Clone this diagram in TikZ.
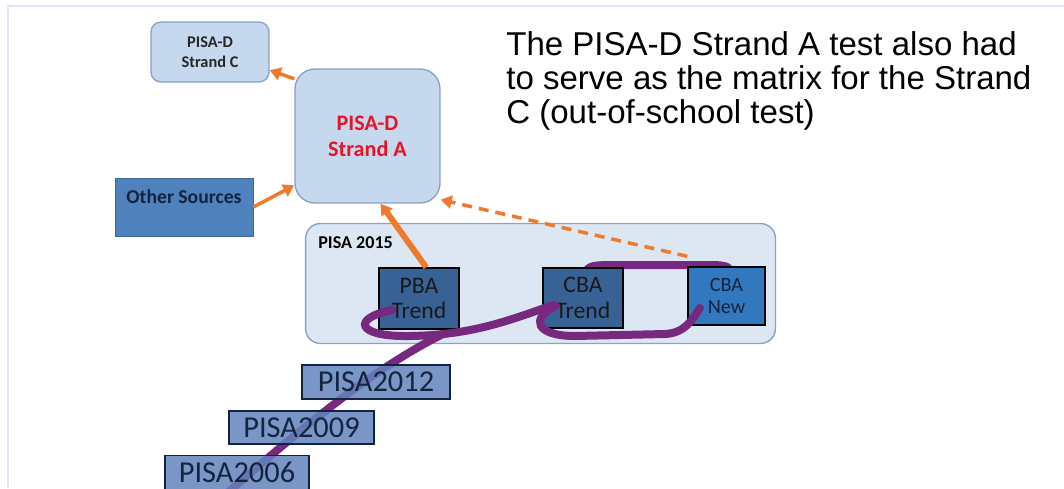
\documentclass[tikz,border=0pt]{standalone}
\usepackage{fontspec}
\setmainfont{Carlito}
\newfontfamily\arialfont{Liberation Sans}
\usetikzlibrary{arrows.meta}

\definecolor{lightbox}{HTML}{C6D8EE}
\definecolor{lightedge}{HTML}{8AA2C6}
\definecolor{panelfill}{HTML}{DDE7F3}
\definecolor{otherblue}{HTML}{4F81BD}
\definecolor{trendblue}{HTML}{386296}
\definecolor{newblue}{HTML}{3178BE}
\definecolor{yearblue}{HTML}{6384BC}
\definecolor{pisaorange}{HTML}{EF7A2C}
\definecolor{trailpurple}{HTML}{77297F}
\definecolor{framecol}{HTML}{DCE6F5}
\definecolor{navytext}{HTML}{14233F}

\tikzset{
  roundbox/.style={draw=lightedge, fill=lightbox, line width=0.8pt, inner sep=0pt, align=center},
  darkbox/.style={draw=black, fill=trendblue, line width=0.8pt, inner sep=0pt, align=center},
  yearbox/.style={draw=navytext, fill=yearblue, fill opacity=0.85, text opacity=1, line width=0.8pt,
    inner sep=0pt, text=navytext, font=\fontsize{17.3}{18}\selectfont},
  feed/.style={draw=pisaorange, line width=2pt, -{Triangle[length=0.22cm,width=0.26cm]}},
  trail/.style={draw=trailpurple, line width=0.16cm, line cap=round}
}

\begin{document}
\begin{tikzpicture}[x=0.02cm, y=-0.02cm]
        \useasboundingbox (0,0) rectangle (1064,488);
        % slide frame
        \draw[framecol, line width=1.2pt] (8,488) -- (8,6) -- (1064,6);

        % title text
        \node[anchor=north west, align=left, inner sep=0pt, font=\arialfont\fontsize{18.8}{19.4}\selectfont]
          (title) at (506,31) {The PISA-D Strand A test also had\\to serve as the matrix for the Strand\\C (out-of-school test)};

        % upper boxes
        \node[roundbox, rounded corners=0.2cm, minimum width=2.36cm, minimum height=1.2cm,
          font=\bfseries\fontsize{9.3}{11.3}\selectfont, text=black!85] (strandC) at (210,52) {PISA-D\\Strand C};
        \node[roundbox, rounded corners=0.4cm, minimum width=2.9cm, minimum height=2.68cm,
          font=\bfseries\fontsize{12.6}{14.7}\selectfont, text={rgb,255:red,230;green,20;blue,40}] (strandA) at (367.5,136) {PISA-D\\Strand A};
        \node[draw=otherblue!80!black, fill=otherblue, line width=0.5pt, inner sep=0pt,
          minimum width=2.76cm, text height=0.5cm, text depth=0.66cm, font=\bfseries\fontsize{11.2}{13}\selectfont,
          text=navytext] (other) at (184,207) {Other Sources};

        % PISA 2015 panel
        \node[roundbox, draw=lightedge, fill=panelfill, rounded corners=0.3cm, minimum width=9.4cm,
          minimum height=2.4cm] (pisa15) at (540.5,283.5) {};
        \node[anchor=base west, inner sep=0pt, font=\bfseries\fontsize{10.3}{12}\selectfont] (lbl15) at (318,248) {PISA 2015};

        % purple trail behind the boxes
        \draw[trail] (586,274) .. controls (586,265) and (596,265) .. (615,265) -- (712,265)
          .. controls (728,265) and (731,268) .. (731,274);
        \draw[trail] (226,494) .. controls (300,430) and (370,370) .. (445,333);

        % boxes of the 2015 round
        \node[darkbox, minimum width=1.6cm, minimum height=1.22cm, font=\fontsize{13.5}{14.7}\selectfont,
          text=black!90] (pba) at (419,298.5) {PBA\\Trend};
        \node[darkbox, minimum width=1.6cm, minimum height=1.2cm, font=\fontsize{13.5}{14.7}\selectfont,
          text=black!90] (cbatrend) at (583,298) {CBA\\Trend};
        \node[darkbox, fill=newblue, minimum width=1.54cm, minimum height=1.16cm, font=\fontsize{11.5}{13}\selectfont,
          text=navytext] (cbanew) at (726.5,296) {CBA\\New};

        % earlier rounds
        \node[yearbox, minimum width=2.96cm, minimum height=0.68cm] (p2012) at (376,382) {PISA2012};
        \node[yearbox, minimum width=2.9cm, minimum height=0.66cm] (p2009) at (301.5,427.5) {PISA2009};
        \node[yearbox, minimum width=2.88cm, minimum height=0.68cm] (p2006) at (237,472.5) {PISA2006};

        % purple trail on top
        \draw[trail] (392,310) .. controls (352,318) and (355,337) .. (410,336)
          .. controls (470,335) and (505,322) .. (553,305);
        \draw[trail] (556,306) .. controls (530,318) and (535,336) .. (575,336) -- (665,334)
          .. controls (685,333) and (692,320) .. (700,308);

        % orange arrows
        \draw[feed] (strandA.142.5) -- (strandC.-17);
        \draw[feed] (other.east) -- (strandA.214);
        \draw[feed, line width=3.4pt] (pba.77) -- (strandA.-79);
        \draw[feed, dash pattern=on 0.2cm off 0.14cm] ([yshift=0.2cm]cbanew.north west) -- (strandA.-41);
    \end{tikzpicture}
\end{document}
